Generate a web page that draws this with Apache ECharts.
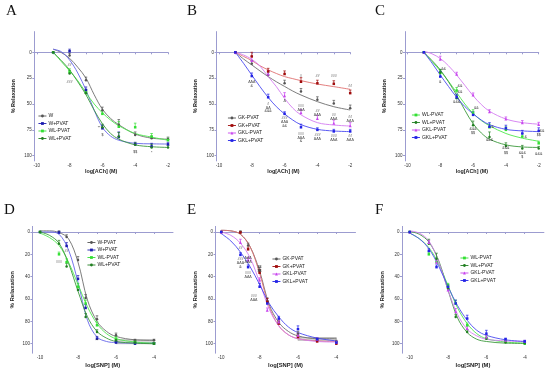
<!DOCTYPE html>
<html><head><meta charset="utf-8">
<script src="https://cdn.jsdelivr.net/npm/echarts@6/dist/echarts.min.js"></script>
<style>html,body{margin:0;padding:0;background:#fff}#c{width:550px;height:374px}</style>
</head><body><div id="c"></div>
<script>
// ---------- x positions (log molar) ----------
const achX = [-9, -8, -7, -6, -5, -4, -3, -2];
const achFitX = [-9, -8.5, -8, -7.5, -7, -6.5, -6, -5.5, -5, -4, -3, -2];
const snpX = [-10, -9, -8.6, -8, -7.6, -7, -6, -5, -4];
const snpFitX = [-10, -9.5, -9, -8.5, -8, -7.5, -7, -6.5, -6, -5, -4];
const achTicks = [-10, -9, -8, -7, -6, -5, -4, -3, -2];
const achLabels = [-10, -8, -6, -4, -2];
const snpTicks = [-10, -9, -8, -7, -6, -5, -4];
const snpLabels = [-10, -8, -6, -4];
const achYLabels = [0, 25, 50, 75, 100];
const snpYLabels = [0, 20, 40, 60, 80, 100];

// ---------- Panel A ----------
const A_W = [0, 3, 27, 56, 70, 80, 83, 84];
const A_WP = [0, -1, 36.5, 73.5, 82, 89, 91, 89];
const A_WLm = [0, 19, 39, 59.5, 72, 72.5, 81.5, 85];
const A_WLp = [0, 20.5, 39.5, 72.5, 81.5, 89.5, 92, 92];
const A_W_err = [0, 2, 3, 3, 5, 3, 2, 2];
const A_WP_err = [0, 2, 3, 3, 5, 2, 3, 2];
const A_WLm_err = [0, 3, 3, 3, 5, 4, 3, 2];
const A_WLp_err = [0, 3, 2, 3, 4, 2, 3, 2];
const A_W_fit = [-3, 0.3, 5.8, 14.5, 25, 41, 55, 64, 70, 79, 83, 84];
const A_WP_fit = [-3, -0.5, 7.4, 20, 36.5, 56, 72.5, 81, 85, 88, 88.5, 88.7];
const A_WLm_fit = [0, 9, 18, 27.5, 39, 50, 58.5, 65.5, 71, 78.5, 82, 85];
const A_WLp_fit = [0, 8, 17, 28.5, 41, 56, 69, 78.5, 84, 89.5, 91.3, 92];
const A_notes = [[-8, 12, '##'], [-8, 28.5, '###'], [-6.2, 73, '**'], [-6, 80, '$'], [-4, 96, '$$'], [-3, 97, '*']];

// ---------- Panel B ----------
const B_GKm = [0, 11, 22, 30, 38, 46, 49.5, 54];
const B_GKp = [0, 4, 18.5, 21, 28.5, 30, 30.5, 39.5];
const B_GKLm = [0, 8, 21, 42, 58.5, 64, 68.5, 71];
const B_GKLp = [0, 23, 43.5, 59.5, 72.5, 75, 76.5, 76.5];
const B_GKm_err = [0, 3, 3, 3, 3, 3, 3, 3];
const B_GKp_err = [0, 4, 3, 3, 4, 3, 3, 3];
const B_GKLm_err = [0, 4, 3, 3, 3, 3, 3, 3];
const B_GKLp_err = [0, 3, 3, 2, 3, 2, 2, 2];
const B_GKm_fit = [0, 6.5, 12.2, 18, 23.5, 28.5, 33, 37.5, 41.3, 47.7, 52.6, 55.8];
const B_GKp_fit = [0, 4, 8, 13, 17, 20.5, 23.5, 25.5, 27.4, 30.7, 33.2, 35.8];
const B_GKLm_fit = [0, 2.6, 6.8, 13.3, 23.5, 33.2, 44.5, 54, 60.5, 68, 70.3, 71.3];
const B_GKLp_fit = [0, 10.7, 22, 33.2, 43.6, 52.6, 59.6, 65.5, 70, 74.5, 76.1, 76.7];
const B_notes = [
  [-8, 29, 'ΔΔΔ'], [-8, 33, '&'],
  [-7, 50, '#'], [-7, 53.5, 'ΔΔ'], [-7, 57, '&&&'],
  [-6, 47, 'Δ'], [-6, 64, '###'], [-6, 67.5, 'ΔΔΔ'], [-6, 71, '&&'],
  [-5, 23, '#'], [-5, 52, '###'], [-5, 55.5, 'ΔΔΔ'], [-5, 79, '###'], [-5, 82.5, 'ΔΔΔ'], [-5, 86, '&'],
  [-4, 23, '##'], [-4, 57, '##'], [-4, 60.5, 'ΔΔΔ'], [-4, 80, '###'], [-4, 83.5, 'ΔΔΔ'],
  [-3, 23, '###'], [-3, 61, '##'], [-3, 64.5, 'ΔΔΔ'], [-3, 81, '###'], [-3, 84.5, 'ΔΔΔ'],
  [-2, 33, '##'], [-2, 63, '##'], [-2, 66.5, 'ΔΔΔ'], [-2, 81, '##'], [-2, 84.5, 'ΔΔΔ']
];

// ---------- Panel C ----------
const C_WLm = [0, 20, 37, 58.5, 72.5, 75, 81.5, 88];
const C_WLp = [0, 19.5, 44.5, 70.5, 82, 90.5, 93, 93];
const C_GKLm = [0, 6.8, 21.3, 41.3, 57.5, 64.5, 68, 69.7];
const C_GKLp = [0, 23.5, 43.5, 60.5, 72, 73.5, 78.5, 76];
const C_WLm_err = [0, 3, 3, 3, 3, 3, 3, 2];
const C_WLp_err = [0, 3, 3, 4, 5, 3, 3, 2];
const C_GKLm_err = [0, 3, 2, 2, 2, 2, 2, 2];
const C_GKLp_err = [0, 5, 3, 3, 4, 3, 3, 3];
const C_WLm_fit = [0, 9, 18, 28, 39, 50, 59, 66, 71, 78.5, 83, 86];
const C_WLp_fit = [0, 8, 17, 28.5, 41.5, 56, 69, 78, 84, 89.5, 91.5, 92];
const C_GKLm_fit = [-1, 1.5, 6, 13, 22, 32, 42, 50.5, 57, 64.5, 68, 69.5];
const C_GKLp_fit = [0, 10.5, 22, 33, 43.5, 52.5, 59.5, 65.5, 70, 74.5, 76, 76.7];
const C_notes = [
  [-7.8, 16, '&&'], [-8, 29, '&'],
  [-6.8, 33, '&&'], [-6.8, 38, '&&'], [-7, 48.5, '&&&'],
  [-5.8, 54, '&&'], [-6, 74, '&&&'], [-6, 78, '$$'],
  [-4.8, 72, '&'], [-5, 85, '&&&'],
  [-4, 93, '&&&'], [-4, 97, '$$'],
  [-2.8, 81.5, '&'], [-3, 97, '&&&'], [-3, 101, '$'],
  [-1.8, 76, '&&'], [-2, 80, '$$'], [-2, 98, '&&&']
];

// ---------- Panel D ----------
const D_Wm = [0, 0, 4.5, 25, 59, 78, 92.5, 97, 97];
const D_Wp = [0, 0.5, 12.5, 42, 68, 95.5, 99, 100, 100];
const D_WLm = [0, 20, 27, 49, 64, 83.5, 95.5, 98.5, 100];
const D_WLp = [0, 10.5, 31, 52, 76, 89.5, 97, 99, 100];
const D_Wm_err = [0, 1, 2, 3, 3, 3, 2, 1, 1];
const D_Wp_err = [0, 1, 3, 3, 3, 2, 1, 1, 1];
const D_WLm_err = [0, 2, 3, 3, 3, 3, 2, 1, 1];
const D_WLp_err = [0, 3, 3, 3, 3, 2, 1, 1, 1];
const D_Wm_fit = [-1, -1, 0.5, 6, 27, 61, 80, 89, 93.5, 96.5, 97];
const D_Wp_fit = [0, 0, 2, 16, 45, 79, 94, 98, 99, 99.5, 99.5];
const D_WLm_fit = [1, 5, 12, 27, 47, 67, 82, 91, 95.5, 98.5, 99.5];
const D_WLp_fit = [0, 3, 10, 28, 53, 76, 89, 95, 98, 99.5, 100];
const D_band = [[-6, 96.5], [-4, 100]];
const D_notes = [[-9, 26.5, '###'], [-8.6, 17, '##'], [-7, 98, '**']];

// ---------- Panel E ----------
const E_GKm = [0, 0, 12, 34.5, 62, 81, 91, 96, 98];
const E_GKp = [0, 0.5, 15.5, 36.5, 62.5, 82, 94, 98, 100];
const E_GKLm = [0, 9.5, 25, 43, 70, 80.5, 92.5, 96, 98.5];
const E_GKLp = [0, 20.5, 31.5, 49, 64, 77.5, 87, 96, 99];
const E_GKm_err = [0, 1, 2, 3, 3, 2, 2, 1, 1];
const E_GKp_err = [0, 1, 2, 3, 3, 2, 2, 1, 1];
const E_GKLm_err = [0, 3, 2, 2, 2, 2, 2, 1, 1];
const E_GKLp_err = [0, 2, 2, 3, 2, 2, 3, 1, 1];
const E_GKm_fit = [-1.5, -1, 2, 13, 35, 65, 81, 89, 93, 95.5, 95.5];
const E_GKp_fit = [-1.5, -1, 2, 13, 37, 67, 84, 92, 95.5, 97.5, 98];
const E_GKLm_fit = [0, 3, 10, 23, 45, 69, 84, 92, 95.5, 98, 98.5];
const E_GKLp_fit = [1.5, 8, 18, 31, 47, 64, 76, 85, 90, 95, 97.5];
const E_band = [[-6, 94.5], [-4, 97]];
const E_notes = [
  [-9, 14, '##'], [-9, 24, '###'], [-9, 27.5, 'ΔΔΔ'], [-9, 31, '&'],
  [-8.6, 23, 'ΔΔΔ'], [-8.6, 26.5, 'ΔΔΔ'], [-8.6, 36.5, '###'], [-8.6, 40, 'ΔΔΔ'],
  [-8, 31, '$$'], [-8, 34.5, '$$'],
  [-8.3, 57, '###'], [-8.3, 60.5, 'ΔΔΔ']
];

// ---------- Panel F ----------
const F_WLm = [0, 20, 27, 48, 64, 83.5, 95, 98, 100];
const F_WLp = [0, 10.5, 24, 50.5, 76, 89.5, 95.5, 99, 99.5];
const F_GKLm = [0, 9.5, 27, 52, 71.5, 86.5, 94, 97, 98];
const F_GKLp = [0, 17, 31.5, 49, 64, 77.5, 91, 96, 98];
const F_WLm_err = [0, 2, 3, 2, 3, 2, 2, 1, 1];
const F_WLp_err = [0, 4, 5, 2, 2, 2, 1, 1, 1];
const F_GKLm_err = [0, 2, 2, 2, 3, 2, 2, 1, 1];
const F_GKLp_err = [0, 2, 2, 2, 3, 3, 3, 1, 1];
const F_WLm_fit = [1, 6, 14, 28, 48, 68, 82, 91, 95.5, 98.5, 99.5];
const F_WLp_fit = [-0.5, 2, 9, 25, 52, 77, 90, 96, 98, 99.5, 99.7];
const F_GKLm_fit = [-1, 1, 8, 26, 52, 74, 87, 93, 96, 97.5, 98];
const F_GKLp_fit = [1, 6, 15, 30, 49, 66, 79, 88, 92.5, 96.5, 98];

// ---------- styles ----------
const FONT = 'Liberation Sans, Arial, sans-serif';
const AXIS = '#9c9cd0';
const STY = {
  'W':        {pt: '#555555', fit: '#6e6e6e', sym: 'circle'},
  'W-PVAT':   {pt: '#555555', fit: '#6e6e6e', sym: 'circle'},
  'W+PVAT':   {pt: '#1c1cb0', fit: '#6464ea', sym: 'rect'},
  'WL-PVAT':  {pt: '#33e033', fit: '#4ee84e', sym: 'rect'},
  'WL+PVAT':  {pt: '#227f22', fit: '#3c9a3c', sym: 'circle'},
  'GK-PVAT':  {pt: '#555555', fit: '#6e6e6e', sym: 'circle'},
  'GK+PVAT':  {pt: '#a00c0c', fit: '#e07070', sym: 'rect'},
  'GKL-PVAT': {pt: '#c844ee', fit: '#d47cf0', sym: 'triangle'},
  'GKL+PVAT': {pt: '#2323e6', fit: '#4a4af0', sym: 'rect'}
};

const panels = [
  {id: 'A', grid: {left: 34.3, top: 31.6, width: 133.7, height: 129.3}, x: [-10.15, -2], y: [-20, 105], ticks: achTicks, xl: achLabels, yl: achYLabels,
   xname: 'log[ACh] (M)', xs: achX, fx: achFitX, letter: [6, 4], legend: [38, 113], band: null,
   series: [['W', A_W, A_W_err, A_W_fit], ['W+PVAT', A_WP, A_WP_err, A_WP_fit], ['WL-PVAT', A_WLm, A_WLm_err, A_WLm_fit], ['WL+PVAT', A_WLp, A_WLp_err, A_WLp_fit]], notes: A_notes},
  {id: 'B', grid: {left: 216.5, top: 31.6, width: 133.7, height: 129.3}, x: [-10.15, -2], y: [-20, 105], ticks: achTicks, xl: achLabels, yl: achYLabels,
   xname: 'log[ACh] (M)', xs: achX, fx: achFitX, letter: [187, 4], legend: [227.5, 115], band: null,
   series: [['GK-PVAT', B_GKm, B_GKm_err, B_GKm_fit], ['GK+PVAT', B_GKp, B_GKp_err, B_GKp_fit], ['GKL-PVAT', B_GKLm, B_GKLm_err, B_GKLm_fit], ['GKL+PVAT', B_GKLp, B_GKLp_err, B_GKLp_fit]], notes: B_notes},
  {id: 'C', grid: {left: 405, top: 31.6, width: 133.7, height: 129.3}, x: [-10.15, -2], y: [-20, 105], ticks: achTicks, xl: achLabels, yl: achYLabels,
   xname: 'log[ACh] (M)', xs: achX, fx: achFitX, letter: [375, 4], legend: [411.5, 112], band: null,
   series: [['WL-PVAT', C_WLm, C_WLm_err, C_WLm_fit], ['WL+PVAT', C_WLp, C_WLp_err, C_WLp_fit], ['GKL-PVAT', C_GKLm, C_GKLm_err, C_GKLm_fit], ['GKL+PVAT', C_GKLp, C_GKLp_err, C_GKLp_fit]], notes: C_notes},
  {id: 'D', grid: {left: 32.4, top: 226.4, width: 140.6, height: 126.8}, x: [-10.4, -3], y: [-5, 108.5], ticks: snpTicks, xl: snpLabels, yl: snpYLabels,
   xname: 'log[SNP] (M)', xs: snpX, fx: snpFitX, letter: [4, 203], legend: [87, 239.5], band: D_band,
   series: [['W-PVAT', D_Wm, D_Wm_err, D_Wm_fit], ['W+PVAT', D_Wp, D_Wp_err, D_Wp_fit], ['WL-PVAT', D_WLm, D_WLm_err, D_WLm_fit], ['WL+PVAT', D_WLp, D_WLp_err, D_WLp_fit]], notes: D_notes},
  {id: 'E', grid: {left: 215.5, top: 226.4, width: 140, height: 126.8}, x: [-10.3, -3], y: [-5, 108.5], ticks: snpTicks, xl: snpLabels, yl: snpYLabels,
   xname: 'log[SNP] (M)', xs: snpX, fx: snpFitX, letter: [187, 203], legend: [272, 256], band: E_band,
   series: [['GK-PVAT', E_GKm, E_GKm_err, E_GKm_fit], ['GK+PVAT', E_GKp, E_GKp_err, E_GKp_fit], ['GKL-PVAT', E_GKLm, E_GKLm_err, E_GKLm_fit], ['GKL+PVAT', E_GKLp, E_GKLp_err, E_GKLp_fit]], notes: E_notes},
  {id: 'F', grid: {left: 402, top: 226.4, width: 141.9, height: 126.8}, x: [-10.4, -3], y: [-5, 108.5], ticks: snpTicks, xl: snpLabels, yl: snpYLabels,
   xname: 'log[SNP] (M)', xs: snpX, fx: snpFitX, letter: [375, 203], legend: [460, 255], band: null,
   series: [['WL-PVAT', F_WLm, F_WLm_err, F_WLm_fit], ['WL+PVAT', F_WLp, F_WLp_err, F_WLp_fit], ['GKL-PVAT', F_GKLm, F_GKLm_err, F_GKLm_fit], ['GKL+PVAT', F_GKLp, F_GKLp_err, F_GKLp_fit]], notes: []}
];

const grids = [], xAxes = [], yAxes = [], series = [], legends = [], titles = [];

function errRender(color) {
  return function (params, api) {
    const x = api.value(0), y = api.value(1), e = api.value(2);
    if (!e) return null;
    const p0 = api.coord([x, y]);
    const p1 = api.coord([x, y - e]);
    const st = {stroke: color, lineWidth: 0.7};
    return {type: 'group', children: [
      {type: 'line', shape: {x1: p0[0], y1: p0[1], x2: p1[0], y2: p1[1]}, style: st},
      {type: 'line', shape: {x1: p1[0] - 1.3, y1: p1[1], x2: p1[0] + 1.3, y2: p1[1]}, style: st}
    ]};
  };
}

function noteRender(params, api) {
  const p = api.coord([api.value(0), api.value(1)]);
  return {type: 'text', x: p[0], y: p[1], style: {text: api.value(2), fontSize: 3.6, fontFamily: FONT, fill: '#333', align: 'center', verticalAlign: 'middle'}};
}

panels.forEach((p, i) => {
  grids.push(Object.assign({containLabel: false}, p.grid));
  const bottom = i >= 3;
  xAxes.push({
    type: 'value', gridIndex: i, min: p.x[0], max: p.x[1],
    name: p.xname, nameLocation: 'middle', nameGap: bottom ? 9.5 : 8.5,
    nameTextStyle: {fontSize: bottom ? 5.8 : 5.4, fontWeight: 'bold', fontFamily: FONT, color: '#222'},
    axisLine: {lineStyle: {color: AXIS, width: 1}},
    axisTick: {show: true, length: 2, customValues: p.ticks, lineStyle: {color: AXIS}},
    axisLabel: {customValues: p.xl, fontSize: 4.5, margin: 2.5, color: '#333', fontFamily: FONT},
    splitLine: {show: false}
  });
  yAxes.push({
    type: 'value', gridIndex: i, min: p.y[0], max: p.y[1], inverse: true,
    name: '% Relaxation', nameLocation: 'middle', nameRotate: 90,
    nameGap: bottom ? 17 : 18,
    nameTextStyle: {fontSize: bottom ? 6 : 5.5, fontWeight: 'bold', fontFamily: FONT, color: '#222'},
    axisLine: {lineStyle: {color: AXIS, width: 1}},
    axisTick: {show: true, length: 2, customValues: p.yl, lineStyle: {color: AXIS}},
    axisLabel: {customValues: p.yl, fontSize: 4.5, margin: 2.5, color: '#333', fontFamily: FONT},
    splitLine: {show: false}
  });
  titles.push({text: p.id, left: p.letter[0], top: p.letter[1], padding: 0,
    textStyle: {fontFamily: 'Liberation Serif, Times New Roman, serif', fontSize: 15, fontWeight: 'normal', color: '#111'}});
  const names = [];
  p.series.forEach((s, si) => {
    const [name, vals, errs, fit] = s;
    const st = STY[name];
    names.push(name);
    const fitSeries = {
      type: 'line', name: p.id + ' ' + name + ' fit', xAxisIndex: i, yAxisIndex: i,
      data: p.fx.map((x, k) => [x, fit[k]]), smooth: 0.35, showSymbol: false, symbol: 'none',
      lineStyle: {color: st.fit, width: 0.9}, silent: true, z: 2
    };
    if (si === 0 && p.band) {
      fitSeries.markArea = {silent: true, itemStyle: {color: 'rgba(150,150,150,0.35)', borderColor: '#8a8a8a', borderWidth: 0.5},
        data: [[{coord: p.band[0]}, {coord: p.band[1]}]]};
    }
    series.push(fitSeries);
    series.push({
      type: 'custom', name: p.id + ' ' + name + ' err', xAxisIndex: i, yAxisIndex: i,
      data: p.xs.map((x, k) => [x, vals[k], errs[k]]), renderItem: errRender(st.pt), silent: true, z: 3
    });
    series.push({
      type: 'line', name: name, xAxisIndex: i, yAxisIndex: i,
      data: p.xs.map((x, k) => [x, vals[k]]), symbol: st.sym, symbolSize: st.sym === 'triangle' ? 3 : 2.5,
      itemStyle: {color: st.pt, borderWidth: 0},
      lineStyle: {opacity: 0, width: 0.01}, z: 4, silent: true
    });
  });
  if (p.notes.length) {
    series.push({type: 'custom', name: p.id + ' notes', xAxisIndex: i, yAxisIndex: i, data: p.notes, renderItem: noteRender, silent: true, z: 5});
  }
  legends.push({
    data: names, left: p.legend[0], top: p.legend[1], orient: 'vertical', padding: 0,
    itemWidth: 8, itemHeight: 3.5, itemGap: 1.5,
    lineStyle: {opacity: 1, width: 0.9},
    textStyle: {fontSize: 5, fontFamily: FONT, color: '#222', lineHeight: 6, padding: [0, 0, 0, -3]},
    selectedMode: false
  });
});

const chart = echarts.init(document.getElementById('c'), null, {renderer: 'canvas'});
chart.setOption({
  animation: false, backgroundColor: '#fff',
  title: titles, grid: grids, xAxis: xAxes, yAxis: yAxes, legend: legends, series: series
});
</script>
</body></html>
